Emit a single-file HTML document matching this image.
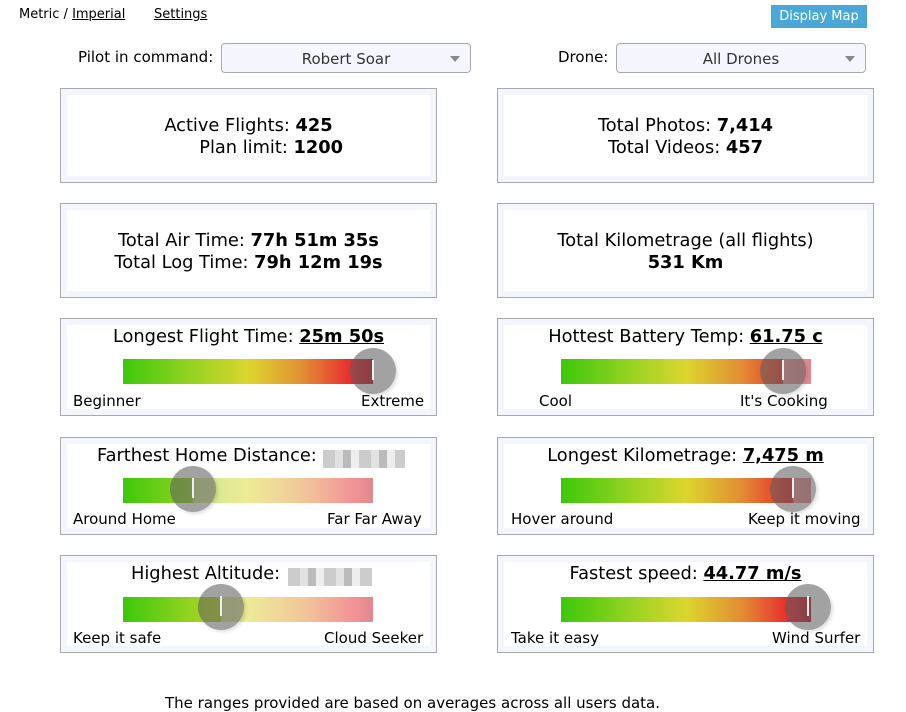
<!DOCTYPE html><html><head><style>
body{margin:0;width:906px;height:703px;overflow:hidden;background:#fff;font-family:"DejaVu Sans","Liberation Sans",sans-serif;color:#000;position:relative}
.a{position:absolute}
.card{position:absolute;width:375px;border:1px solid #a9a9a9;background:#f3f7fd}
.card .in{position:absolute;left:6px;right:6px;top:6px;bottom:6px;background:#fff}
.t{position:absolute;left:0;right:0;text-align:center;font-size:17.8px;line-height:22px}
.bar{position:absolute;width:250px;height:25px;background:linear-gradient(90deg,#3cc80a 0%,#8ed21f 25%,#dcd62e 50%,#e28e33 72%,#e8262e 92%,#c01020 100%)}
.fade{position:absolute;top:0;bottom:0;right:0;background:rgba(255,255,255,0.5)}
.knob{position:absolute;width:46px;height:46px;border-radius:50%;background:rgba(95,95,95,0.58);box-shadow:2px 2px 3px rgba(0,0,0,0.12)}
.knob:after{content:"";position:absolute;left:22px;top:12px;width:2px;height:20px;background:#eee}
.lab{position:absolute;font-size:15px}
.dd{position:absolute;height:28px;width:248px;border:1px solid #aaa;border-radius:4px;background:#f4f8fe;text-align:center;font-size:15px;line-height:30px;color:#333}
.dd:after{content:"";position:absolute;right:10px;top:12px;border:5px solid transparent;border-top:6px solid #888}
.blur{position:absolute;height:18px;background:repeating-linear-gradient(90deg,#ccc 0 12px,#e2e2e2 12px 20px,#bbb 20px 28px,#eee 28px 36px)}
</style></head><body>
<div class="a" style="left:19px;top:7px;font-size:13px">Metric / <u>Imperial</u></div>
<div class="a" style="left:154px;top:7px;font-size:13px"><u>Settings</u></div>
<div class="a" style="left:771px;top:5px;width:96px;height:23px;background:#4aa8d8;color:#fff;font-size:13px;line-height:23px;text-align:center">Display Map</div>
<div class="a" style="left:78px;top:48px;font-size:15px">Pilot in command:</div>
<div class="dd" style="left:221px;top:43px">Robert Soar</div>
<div class="a" style="left:558px;top:48px;font-size:15px">Drone:</div>
<div class="dd" style="left:616px;top:43px">All Drones</div>

<div class="card" style="left:60px;top:88px;height:93px"><div class="in"></div>
<div class="t" style="top:26px">Active Flights: <b>425</b><br>&nbsp;&nbsp;&nbsp;&nbsp;&nbsp;&nbsp;&nbsp;&nbsp;Plan limit: <b>1200</b></div></div>
<div class="card" style="left:497px;top:88px;height:93px"><div class="in"></div>
<div class="t" style="top:26px">Total Photos: <b>7,414</b><br>Total Videos: <b>457</b></div></div>
<div class="card" style="left:60px;top:203px;height:93px"><div class="in"></div>
<div class="t" style="top:26px">Total Air Time: <b>77h 51m 35s</b><br>Total Log Time: <b>79h 12m 19s</b></div></div>
<div class="card" style="left:497px;top:203px;height:93px"><div class="in"></div>
<div class="t" style="top:26px">Total Kilometrage (all flights)<br><b>531 Km</b></div></div>

<div class="card" style="left:60px;top:318px;height:96px"><div class="in"></div>
<div class="t" style="top:7px">Longest Flight Time: <b><u>25m 50s</u></b></div></div>
<div class="bar" style="left:123px;top:359px"></div><div class="knob" style="left:350px;top:348px"></div>
<div class="lab" style="left:73px;top:392px">Beginner</div><div class="lab" style="left:361px;top:392px">Extreme</div>

<div class="card" style="left:497px;top:318px;height:96px"><div class="in"></div>
<div class="t" style="top:7px">Hottest Battery Temp: <b><u>61.75 c</u></b></div></div>
<div class="bar" style="left:561px;top:359px"><div class="fade" style="left:222px"></div></div><div class="knob" style="left:760px;top:348px"></div>
<div class="lab" style="left:539px;top:392px">Cool</div><div class="lab" style="left:740px;top:392px">It's Cooking</div>

<div class="card" style="left:60px;top:437px;height:96px"><div class="in"></div>
<div class="t" style="top:7px;text-align:left;left:36px">Farthest Home Distance:</div></div>
<div class="blur" style="left:323px;top:450px;width:82px"></div>
<div class="bar" style="left:123px;top:478px"><div class="fade" style="left:70px"></div></div><div class="knob" style="left:170px;top:466px"></div>
<div class="lab" style="left:73px;top:510px">Around Home</div><div class="lab" style="left:327px;top:510px">Far Far Away</div>

<div class="card" style="left:497px;top:437px;height:96px"><div class="in"></div>
<div class="t" style="top:7px">Longest Kilometrage: <b><u>7,475 m</u></b></div></div>
<div class="bar" style="left:561px;top:478px"><div class="fade" style="left:232px"></div></div><div class="knob" style="left:770px;top:466px"></div>
<div class="lab" style="left:511px;top:510px">Hover around</div><div class="lab" style="left:748px;top:510px">Keep it moving</div>

<div class="card" style="left:60px;top:555px;height:96px"><div class="in"></div>
<div class="t" style="top:7px;text-align:left;left:70px">Highest Altitude:</div></div>
<div class="blur" style="left:288px;top:568px;width:84px"></div>
<div class="bar" style="left:123px;top:597px"><div class="fade" style="left:98px"></div></div><div class="knob" style="left:198px;top:584px"></div>
<div class="lab" style="left:73px;top:629px">Keep it safe</div><div class="lab" style="left:324px;top:629px">Cloud Seeker</div>

<div class="card" style="left:497px;top:555px;height:96px"><div class="in"></div>
<div class="t" style="top:7px">Fastest speed: <b><u>44.77 m/s</u></b></div></div>
<div class="bar" style="left:561px;top:597px"></div><div class="knob" style="left:785px;top:584px"></div>
<div class="lab" style="left:511px;top:629px">Take it easy</div><div class="lab" style="left:772px;top:629px">Wind Surfer</div>

<div class="a" style="left:165px;top:694px;font-size:15px">The ranges provided are based on averages across all users data.</div>
</body></html>
